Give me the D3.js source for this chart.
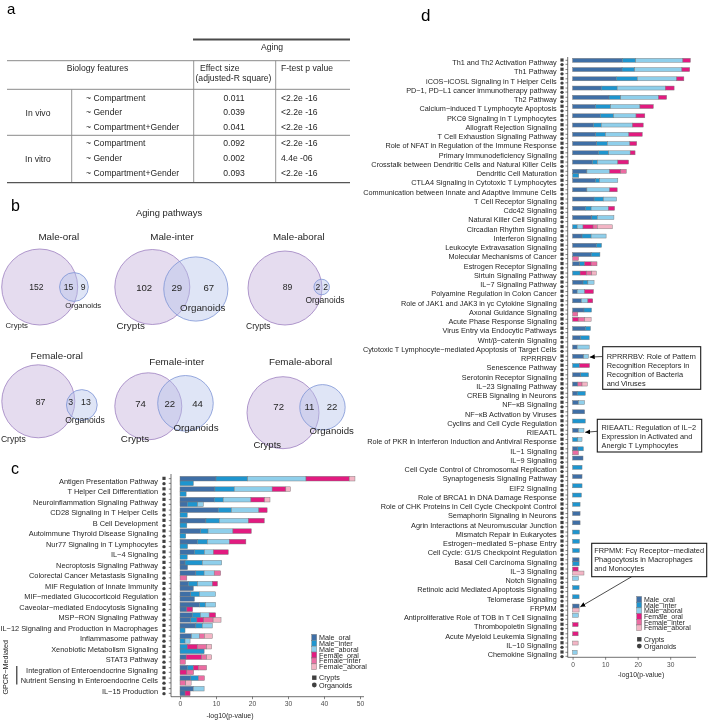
<!DOCTYPE html>
<html><head><meta charset="utf-8">
<script src="https://cdn.jsdelivr.net/npm/d3@7"></script>
<style>
body{margin:0;background:#fff}
svg{display:block;will-change:transform}
text{font-family:"Liberation Sans",Arial,Helvetica,sans-serif}
</style>
</head><body>
<svg id="fig" width="708" height="720"></svg>
<script>
// ---------------- DATA ----------------
// Panel a (table)
const tableGroups = ["In vivo", "In vitro"];
const tableFormulas = ["~ Compartment", "~ Gender", "~ Compartment+Gender", "~ Compartment", "~ Gender", "~ Compartment+Gender"];
const tableEffect = ["0.011", "0.039", "0.041", "0.092", "0.002", "0.093"];
const tablePValue = ["<2.2e -16", "<2.2e -16", "<2.2e -16", "<2.2e -16", "4.4e -06", "<2.2e -16"];

// Panel b (Venn)
const vennTitles = ["Male-oral", "Male-inter", "Male-aboral", "Female-oral", "Female-inter", "Female-aboral"];
const vennCryptsOnly = [152, 102, 89, 87, 74, 72];
const vennShared = [15, 29, 2, 3, 22, 11];
const vennOrganoidsOnly = [9, 67, 2, 13, 44, 22];

// Groups (stack order)
const groups = ["Male_oral", "Male_inter", "Male_aboral", "Female_oral", "Female_inter", "Female_aboral"];
const sampleTypes = ["Crypts", "Organoids"];

// Panel c
const cPathways = ["Antigen Presentation Pathway", "T Helper Cell Differentiation", "Neuroinflammation Signaling Pathway",
  "CD28 Signaling in T Helper Cells", "B Cell Development", "Autoimmune Thyroid Disease Signaling",
  "Nur77 Signaling in T Lymphocytes", "IL−4 Signaling", "Necroptosis Signaling Pathway",
  "Colorectal Cancer Metastasis Signaling", "MIF Regulation of Innate Immunity", "MIF−mediated Glucocorticoid Regulation",
  "Caveolar−mediated Endocytosis Signaling", "MSP−RON Signaling Pathway", "IL−12 Signaling and Production in Macrophages",
  "Inflammasome pathway", "Xenobiotic Metabolism Signaling", "STAT3 Pathway",
  "Integration of Enteroendocrine Signaling", "Nutrient Sensing in Enteroendocrine Cells", "IL−15 Production"];
// columns: Male_oral, Male_inter, Male_aboral, Female_oral, Female_inter, Female_aboral
const cCrypts = [
  [10.0, 8.8, 16.2, 12.0, 0, 1.6],
  [9.7, 5.4, 10.5, 3.8, 0, 1.3],
  [9.5, 2.5, 7.7, 3.8, 0, 1.5],
  [10.6, 3.7, 7.6, 2.3, 0, 0],
  [7.2, 3.7, 8.1, 4.4, 0, 0],
  [5.7, 2.1, 6.9, 5.1, 0, 0],
  [4.8, 2.8, 6.1, 4.6, 0, 0],
  [4.0, 2.8, 2.5, 4.1, 0, 0],
  [1.4, 4.8, 5.4, 0, 0, 0],
  [4.4, 2.3, 2.8, 0, 1.8, 0],
  [2.3, 2.6, 4.1, 1.4, 0, 0],
  [3.0, 2.4, 4.5, 0, 0, 0],
  [5.4, 1.7, 2.8, 0, 0, 0],
  [3.4, 2.3, 2.4, 1.8, 0, 0],
  [4.4, 1.8, 2.8, 0, 0, 0],
  [3.2, 0, 2.2, 0, 1.4, 2.2],
  [0, 2.0, 0, 2.8, 2.6, 1.4],
  [1.7, 0, 0, 4.3, 1.4, 1.4],
  [2.0, 1.7, 0, 1.4, 2.3, 0],
  [3.0, 2.1, 0, 0, 1.7, 0],
  [3.7, 0, 3.0, 0, 0, 0]
];
const cOrganoids = [
  [0, 3.7, 0, 0, 0, 0],
  [0, 1.7, 0, 0, 0, 0],
  [2.0, 2.9, 1.6, 0, 0, 0],
  [0, 2.0, 0, 0, 0, 0],
  [0, 1.9, 0, 0, 0, 0],
  [0, 1.6, 0, 0, 0, 0],
  [0, 2.1, 0, 0, 0, 0],
  [0, 2.0, 0, 0, 0, 0],
  [2.1, 0, 0, 0, 0, 0],
  [0, 0, 0, 0, 1.9, 0],
  [3.7, 0, 0, 0, 0, 0],
  [4.0, 0, 0, 0, 0, 0],
  [1.9, 0, 0, 1.6, 0, 0],
  [3.0, 1.7, 0, 1.9, 2.6, 2.2],
  [0, 1.4, 0, 0, 0, 0],
  [0, 1.4, 1.4, 0, 0, 0],
  [0, 6.7, 0, 0, 0, 0],
  [0, 0, 0, 0, 1.5, 0],
  [0, 0, 0, 1.9, 1.9, 0],
  [0, 0, 0, 0, 1.6, 1.5],
  [1.4, 0, 0, 1.4, 0, 0]
];
const cTicks = [0, 10, 20, 30, 40, 50];

// Panel d
const dPathways = ["Th1 and Th2 Activation Pathway", "Th1 Pathway", "iCOS−iCOSL Signaling in T Helper Cells",
  "PD−1, PD−L1 cancer immunotherapy pathway", "Th2 Pathway", "Calcium−induced T Lymphocyte Apoptosis",
  "PKCθ Signaling in T Lymphocytes", "Allograft Rejection Signaling", "T Cell Exhaustion Signaling Pathway",
  "Role of NFAT in Regulation of the Immune Response", "Primary Immunodeficiency Signaling",
  "Crosstalk between Dendritic Cells and Natural Killer Cells", "Dendritic Cell Maturation",
  "CTLA4 Signaling in Cytotoxic T Lymphocytes", "Communication between Innate and Adaptive Immune Cells",
  "T Cell Receptor Signaling", "Cdc42 Signaling", "Natural Killer Cell Signaling", "Circadian Rhythm Signaling",
  "Interferon Signaling", "Leukocyte Extravasation Signaling", "Molecular Mechanisms of Cancer",
  "Estrogen Receptor Signaling", "Sirtuin Signaling Pathway", "IL−7 Signaling Pathway",
  "Polyamine Regulation in Colon Cancer", "Role of JAK1 and JAK3 in γc Cytokine Signaling",
  "Axonal Guidance Signaling", "Acute Phase Response Signaling", "Virus Entry via Endocytic Pathways",
  "Wnt/β−catenin Signaling", "Cytotoxic T Lymphocyte−mediated Apoptosis of Target Cells", "RPRRRBV",
  "Senescence Pathway", "Serotonin Receptor Signaling", "IL−23 Signaling Pathway", "CREB Signaling in Neurons",
  "NF−κB Signaling", "NF−κB Activation by Viruses", "Cyclins and Cell Cycle Regulation", "RIEAATL",
  "Role of PKR in Interferon Induction and Antiviral Response", "IL−1 Signaling", "IL−9 Signaling",
  "Cell Cycle Control of Chromosomal Replication", "Synaptogenesis Signaling Pathway", "EIF2 Signaling",
  "Role of BRCA1 in DNA Damage Response", "Role of CHK Proteins in Cell Cycle Checkpoint Control",
  "Semaphorin Signaling in Neurons", "Agrin Interactions at Neuromuscular Junction", "Mismatch Repair in Eukaryotes",
  "Estrogen−mediated S−phase Entry", "Cell Cycle: G1/S Checkpoint Regulation", "Basal Cell Carcinoma Signaling",
  "IL−3 Signaling", "Notch Signaling", "Retinoic acid Mediated Apoptosis Signaling", "Telomerase Signaling",
  "FRPMM", "Antiproliferative Role of TOB in T Cell Signaling", "Thrombopoietin Signaling",
  "Acute Myeloid Leukemia Signaling", "IL−10 Signaling", "Chemokine Signaling"];
const dCrypts = [
  [15.3, 4.1, 14.5, 2.3, 0, 0],
  [15.2, 3.9, 14.5, 2.4, 0, 0],
  [13.4, 6.5, 12.1, 2.2, 0, 0],
  [8.8, 4.9, 14.8, 2.7, 0, 0],
  [11.2, 3.6, 11.6, 2.5, 0, 0],
  [7.0, 4.7, 9.0, 4.1, 0, 0],
  [8.5, 4.1, 6.9, 2.7, 0, 0],
  [6.4, 2.4, 9.6, 3.3, 0, 0],
  [7.1, 3.0, 7.2, 4.1, 0, 0],
  [7.4, 3.3, 6.9, 2.1, 0, 0],
  [7.9, 3.2, 6.6, 1.5, 0, 0],
  [6.1, 1.5, 6.3, 3.3, 0, 0],
  [4.4, 0, 7.0, 3.4, 1.7, 0],
  [7.0, 1.3, 5.6, 0, 0, 0],
  [4.4, 0, 7.0, 2.3, 0, 0],
  [6.6, 2.9, 4.0, 0, 0, 0],
  [3.9, 1.8, 5.3, 1.9, 0, 0],
  [5.9, 1.7, 5.1, 0, 0, 0],
  [0, 1.4, 1.8, 3.1, 1.3, 4.6],
  [2.9, 2.8, 4.6, 0, 0, 0],
  [7.3, 1.6, 0, 0, 0, 0],
  [5.7, 2.7, 0, 0, 0, 0],
  [2.2, 1.5, 0, 2.0, 1.8, 0],
  [0, 2.3, 0, 2.0, 1.6, 1.4],
  [3.2, 1.5, 1.9, 0, 0, 0],
  [1.4, 0, 2.3, 2.7, 0, 0],
  [2.7, 0, 2.0, 1.5, 0, 0],
  [3.5, 2.3, 0, 0, 0, 0],
  [0, 0, 0, 1.8, 1.9, 2.0],
  [3.9, 1.6, 0, 0, 0, 0],
  [2.4, 2.7, 0, 0, 0, 0],
  [1.4, 0, 3.7, 0, 0, 0],
  [3.4, 0, 1.5, 0, 0, 0],
  [0, 2.1, 0, 3.1, 0, 0],
  [2.5, 2.4, 0, 0, 0, 0],
  [1.6, 0, 0, 0, 1.3, 1.6],
  [1.4, 2.5, 0, 0, 0, 0],
  [1.8, 0, 1.9, 0, 0, 0],
  [3.7, 0, 0, 0, 0, 0],
  [0, 3.9, 0, 0, 0, 0],
  [1.8, 0, 1.7, 0, 0, 0],
  [0, 1.6, 1.3, 0, 0, 0],
  [1.6, 1.7, 0, 0, 0, 0],
  [3.2, 0, 0, 0, 0, 0],
  [0, 2.9, 0, 0, 0, 0],
  [2.9, 0, 0, 0, 0, 0],
  [0, 2.9, 0, 0, 0, 0],
  [0, 2.7, 0, 0, 0, 0],
  [0, 2.3, 0, 0, 0, 0],
  [2.3, 0, 0, 0, 0, 0],
  [2.3, 0, 0, 0, 0, 0],
  [0, 2.1, 0, 0, 0, 0],
  [0, 2.1, 0, 0, 0, 0],
  [0, 2.1, 0, 0, 0, 0],
  [2.0, 0, 0, 0, 0, 0],
  [0, 0, 0, 1.7, 0, 0],
  [0, 0, 1.8, 0, 0, 0],
  [0, 2.0, 0, 0, 0, 0],
  [0, 2.0, 0, 0, 0, 0],
  [2.0, 0, 0, 0, 0, 0],
  [0, 0, 1.8, 0, 0, 0],
  [0, 0, 0, 1.7, 0, 0],
  [0, 0, 0, 1.7, 0, 0],
  [0, 0, 0, 0, 0, 1.7],
  [0, 0, 1.4, 0, 0, 0]
];
const dOrganoids = [
  [0,0,0,0,0,0],[0,0,0,0,0,0],[0,0,0,0,0,0],[0,0,0,0,0,0],[0,0,0,0,0,0],
  [0,0,0,0,0,0],[0,0,0,0,0,0],[0,0,0,0,0,0],[0,0,0,0,0,0],[0,0,0,0,0,0],
  [0,0,0,0,0,0],[0,0,0,0,0,0],[0,1.9,0,0,0,0],[0,0,0,0,0,0],[0,0,0,0,0,0],
  [0,0,0,0,0,0],[0,0,0,0,0,0],[0,0,0,0,0,0],[0,0,0,0,0,0],[0,0,0,0,0,0],
  [0,0,0,0,0,0],[0,0,0,0,1.8,0],[0,0,0,0,0,0],[0,0,0,0,0,0],[0,0,0,0,0,0],
  [0,0,0,0,0,0],[0,0,0,0,0,0],[0,0,0,0,1.6,0],[0,0,0,0,0,0],[0,0,0,0,0,0],
  [0,0,0,0,0,0],[0,0,0,0,0,0],[0,0,0,0,0,0],[0,0,0,0,0,0],[0,0,0,0,0,0],
  [0,0,0,0,0,0],[0,0,0,0,0,0],[0,0,0,0,0,0],[0,0,0,0,0,0],[0,0,0,0,0,0],
  [0,0,0,0,0,0],[0,0,0,0,0,0],[0,0,0,0,1.8,0],[0,0,0,0,0,0],[0,0,0,0,0,0],
  [0,0,0,0,0,0],[0,0,0,0,0,0],[0,0,0,0,0,0],[0,0,0,0,0,0],[0,0,0,0,0,0],
  [0,0,0,0,0,0],[0,0,0,0,0,0],[0,0,0,0,0,0],[0,0,0,0,0,0],[0,2.0,0,0,0,0],
  [0,0,0,0,0,3.5],[0,0,0,0,0,0],[0,0,0,0,0,0],[0,0,0,0,0,0],[0,0,0,0,0,2.0],
  [0,0,0,0,0,0],[0,0,0,0,0,0],[0,0,0,0,0,0],[0,0,0,0,0,0],[0,0,0,0,0,0]
];
const dTicks = [0, 10, 20, 30];

// Annotations in panel d
const dNotes = [
  {target: "RPRRRBV", lines: ["RPRRRBV:  Role of Pattern", "Recognition Receptors in", "Recognition of Bacteria", "and Viruses"]},
  {target: "RIEAATL", lines: ["RIEAATL: Regulation of IL−2", "Expression in Activated and", "Anergic T Lymphocytes"]},
  {target: "FRPMM", lines: ["FRPMM: Fcγ Receptor−mediated", "Phagocytosis in Macrophages", "and Monocytes"]}
];

// ---------------- STYLE / LAYOUT ----------------
const groupColors = ["#3f6fa6", "#1e95cf", "#8fcfeb", "#e21b80", "#eb6ca2", "#f3b5c5"];
const color = d3.scaleOrdinal().domain(groups).range(groupColors);
const TXT = "#262626";

const svg = d3.select("#fig");
svg.append("rect").attr("width", 708).attr("height", 720).attr("fill", "#fff");

function text(g, x, y, s, size, anchor = "start", fill = TXT) {
  return g.append("text").attr("x", x).attr("y", y).attr("font-size", size)
    .attr("text-anchor", anchor).attr("fill", fill).text(s);
}
function line(g, x1, y1, x2, y2, stroke, w) {
  return g.append("line").attr("x1", x1).attr("y1", y1).attr("x2", x2).attr("y2", y2)
    .attr("stroke", stroke).attr("stroke-width", w);
}

// panel letters
text(svg, 7, 13.5, "a", 15, "start", "#000");
text(svg, 11, 211, "b", 16, "start", "#000");
text(svg, 11, 474, "c", 16, "start", "#000");
text(svg, 421, 20.5, "d", 17, "start", "#000");

// ---------------- PANEL A ----------------
(function () {
  const g = svg.append("g");
  const fs = 8.6;
  const rowY = [97.7, 111.7, 126.7, 143.3, 158.3, 173.3];
  const gridC = "#8a8a8a";
  line(g, 193, 39.5, 350, 39.5, "#4a4a4a", 2);
  text(g, 272, 50, "Aging", fs, "middle");
  line(g, 7, 60.7, 350, 60.7, gridC, 1);
  line(g, 193.7, 60.7, 193.7, 182.7, gridC, 0.9);
  line(g, 275.7, 60.7, 275.7, 182.7, gridC, 0.9);
  line(g, 71.7, 89.3, 71.7, 182.7, gridC, 0.9);
  text(g, 97.5, 71.3, "Biology features", fs, "middle");
  text(g, 200, 71, "Effect size", fs, "start");
  text(g, 195.5, 80.7, "(adjusted-R square)", fs, "start");
  text(g, 281, 71.3, "F-test p value", fs, "start");
  line(g, 7, 89.3, 350, 89.3, gridC, 1);
  line(g, 7, 135.3, 350, 135.3, gridC, 1);
  line(g, 7, 182.7, 350, 182.7, "#555", 1.3);
  text(g, 38, 116.3, tableGroups[0], fs, "middle");
  text(g, 38, 161.7, tableGroups[1], fs, "middle");
  tableFormulas.forEach((f, i) => {
    text(g, 86, rowY[i] + 3, f, fs, "start");
    text(g, 234, rowY[i] + 3, tableEffect[i], fs, "middle");
    text(g, 281, rowY[i] + 3, tablePValue[i], fs, "start");
  });
})();

// ---------------- PANEL B ----------------
(function () {
  const g = svg.append("g");
  text(g, 169, 216, "Aging pathways", 9.4, "middle");
  const layout = [
    {cx: 39.7, cy: 287, r: 38, dy: 0, tx: 58.8, ty: 240, ny: 287.3, nfs: 8.6, lfs: 7.8, crypt: [16.7, 325.7], org: [83.3, 305]},
    {cx: 152.3, cy: 287, r: 37.5, dy: 2, tx: 172, ty: 240, ny: 287.3, nfs: 9.6, lfs: 9.8, crypt: [130.7, 325.7], org: [202.7, 307.3]},
    {cx: 285, cy: 288, r: 37, dy: -1, tx: 298.8, ty: 240, ny: 287.3, nfs: 8.6, lfs: 8.5, crypt: [258.3, 325.7], org: [325, 300]},
    {cx: 38.3, cy: 401.3, r: 36.5, dy: 3.7, tx: 56.7, ty: 358.5, ny: 402.3, nfs: 8.8, lfs: 8.6, crypt: [13.3, 439.3], org: [85, 420]},
    {cx: 148.3, cy: 406.3, r: 33.5, dy: -3, tx: 176.7, ty: 365, ny: 403.3, nfs: 9.6, lfs: 9.8, crypt: [135, 438.3], org: [196, 427.7]},
    {cx: 283, cy: 412.7, r: 36, dy: -5.4, tx: 300.5, ty: 365, ny: 406.7, nfs: 9.6, lfs: 9.6, crypt: [267.3, 444.3], org: [331.7, 431]}
  ];
  function lens(r1, r2, d) {
    if (d >= r1 + r2) return 0;
    if (d <= Math.abs(r1 - r2)) return Math.PI * Math.min(r1, r2) ** 2;
    const a1 = Math.acos((d * d + r1 * r1 - r2 * r2) / (2 * d * r1));
    const a2 = Math.acos((d * d + r2 * r2 - r1 * r1) / (2 * d * r2));
    return r1 * r1 * a1 + r2 * r2 * a2 - 0.5 * Math.sqrt((-d + r1 + r2) * (d + r1 - r2) * (d - r1 + r2) * (d + r1 + r2));
  }
  vennTitles.forEach((t, i) => {
    const L = layout[i];
    const nC = vennCryptsOnly[i] + vennShared[i];
    const nO = vennOrganoidsOnly[i] + vennShared[i];
    const rScale = d3.scaleSqrt().domain([0, nC]).range([0, L.r]);
    const r1 = rScale(nC), r2 = rScale(nO);
    const k = Math.PI * r1 * r1 / nC;
    const target = k * vennShared[i];
    let lo = Math.abs(r1 - r2), hi = r1 + r2;
    for (let it = 0; it < 60; it++) {
      const mid = (lo + hi) / 2;
      if (lens(r1, r2, mid) > target) lo = mid; else hi = mid;
    }
    const d = (lo + hi) / 2;
    const dx = Math.sqrt(Math.max(0, d * d - L.dy * L.dy));
    const ox = L.cx + dx, oy = L.cy + L.dy;
    g.append("circle").attr("cx", L.cx).attr("cy", L.cy).attr("r", r1)
      .attr("fill", "#c9b6dd").attr("fill-opacity", 0.48).attr("stroke", "#9d80c0").attr("stroke-width", 0.8);
    g.append("circle").attr("cx", ox).attr("cy", oy).attr("r", r2)
      .attr("fill", "#b2c2ea").attr("fill-opacity", 0.42).attr("stroke", "#7d94d6").attr("stroke-width", 0.8);
    text(g, L.tx, L.ty, t, 9.8, "middle");
    const cLeft = L.cx - r1, oLeft = ox - r2, cRight = L.cx + r1, oRight = ox + r2;
    const yN = L.ny + L.nfs * 0.35;
    text(g, cLeft + (oLeft - cLeft) * 0.6, yN, vennCryptsOnly[i], L.nfs, "middle");
    text(g, (oLeft + cRight) / 2, yN, vennShared[i], L.nfs, "middle");
    text(g, (cRight + oRight) / 2, yN, vennOrganoidsOnly[i], L.nfs, "middle");
    text(g, L.crypt[0], L.crypt[1] + L.lfs * 0.35, "Crypts", L.lfs, "middle");
    text(g, L.org[0], L.org[1] + L.lfs * 0.35, "Organoids", L.lfs, "middle");
  });
})();

// ---------------- BAR PANELS ----------------
function buildRows(names, crypts, orgs) {
  const rows = [];
  names.forEach((n, i) => {
    [crypts[i], orgs[i]].forEach((vals, t) => {
      const r = {pathway: n, type: sampleTypes[t]};
      groups.forEach((gname, j) => r[gname] = vals[j]);
      rows.push(r);
    });
  });
  return rows;
}

function barPanel(opt) {
  const g = svg.append("g");
  const x = d3.scaleLinear().domain([0, opt.xMaxTick]).range([opt.x0, opt.x1]);
  const y = d3.scalePoint().domain(opt.names).range([opt.yFirst, opt.yLast]);
  const rows = buildRows(opt.names, opt.crypts, opt.orgs);
  const series = d3.stack().keys(groups)(rows);
  const h = opt.barH;
  const yBar = (d) => y(d.data.pathway) + (d.data.type === "Crypts" ? -h : 0);

  // bars
  series.forEach(s => {
    g.append("g").selectAll("rect").data(s.filter(d => d[1] - d[0] > 0)).join("rect")
      .attr("x", d => x(d[0])).attr("width", d => x(d[1]) - x(d[0]))
      .attr("y", yBar).attr("height", h)
      .attr("fill", color(s.key)).attr("stroke", "#7a7a7a").attr("stroke-width", 0.45);
  });

  // x axis
  const xa = g.append("g").attr("transform", `translate(0,${opt.axisY})`)
    .call(d3.axisBottom(x).tickValues(opt.ticks).tickSize(2.5).tickPadding(2.2));
  xa.select(".domain").remove();
  xa.selectAll(".tick line").attr("stroke", "#333").attr("stroke-width", 0.6);
  xa.selectAll(".tick text").attr("font-size", opt.tickFs).attr("fill", "#4d4d4d")
    .attr("font-family", '"Liberation Sans",Arial,sans-serif');
  line(g, opt.axisX, opt.axisY, opt.axisRight, opt.axisY, "#333", 0.7);
  line(g, opt.axisX, opt.axisTop, opt.axisX, opt.axisY, "#333", 0.7);
  text(g, opt.titleX, opt.titleY, "-log10(p-value)", opt.titleFs, "middle");

  // y axis labels via axisLeft
  const ya = g.append("g").attr("transform", `translate(${opt.axisX},0)`)
    .call(d3.axisLeft(y).tickSize(0).tickPadding(opt.labelPad));
  ya.select(".domain").remove();
  ya.selectAll(".tick text").attr("font-size", opt.labelFs).attr("fill", TXT)
    .attr("font-family", '"Liberation Sans",Arial,sans-serif');

  // shape icons + small ticks per sample type
  opt.names.forEach(n => {
    const yc = y(n);
    g.append("rect").attr("x", opt.iconX - 1.6).attr("y", yc - h / 2 - 1.6 - 0.3).attr("width", 3.2).attr("height", 3.2).attr("fill", "#404040");
    g.append("circle").attr("cx", opt.iconX).attr("cy", yc + h / 2 + 0.3).attr("r", 1.7).attr("fill", "#404040");
    [-h / 2, h / 2].forEach(off => line(g, opt.axisX - 2.2, yc + off, opt.axisX, yc + off, "#333", 0.6));
  });

  // legend
  const L = opt.legend;
  groups.forEach((gn, i) => {
    const yy = L.y + i * L.step;
    g.append("rect").attr("x", L.x).attr("y", yy - L.step / 2).attr("width", 5).attr("height", L.step)
      .attr("fill", color(gn)).attr("stroke", "#7a7a7a").attr("stroke-width", 0.45);
    text(g, L.x + 7.3, yy + L.fs * 0.36, gn, L.fs, "start");
  });
  g.append("rect").attr("x", L.x + 0.4).attr("y", L.shapeY - 2.2).attr("width", 4.4).attr("height", 4.4).attr("fill", "#404040");
  text(g, L.x + 7.3, L.shapeY + L.fs * 0.36, "Crypts", L.fs, "start");
  g.append("circle").attr("cx", L.x + 2.6).attr("cy", L.shapeY + L.shapeStep).attr("r", 2.4).attr("fill", "#404040");
  text(g, L.x + 7.3, L.shapeY + L.shapeStep + L.fs * 0.36, "Organoids", L.fs, "start");
  return {g, x, y};
}

// Panel c
const pc = barPanel({
  names: cPathways, crypts: cCrypts, orgs: cOrganoids, ticks: cTicks,
  xMaxTick: 50, x0: 180, x1: 360, yFirst: 481, yLast: 691, barH: 4.7,
  axisX: 171, axisY: 696.7, axisTop: 474, axisRight: 364,
  labelPad: 13, labelFs: 7.4, tickFs: 6.8, iconX: 164,
  titleX: 230, titleY: 717.5, titleFs: 7,
  legend: {x: 311.7, y: 637.3, step: 5.9, fs: 7.2, shapeY: 677.7, shapeStep: 7.3}
});
// GPCR bracket
(function () {
  const yA = pc.y(cPathways[18]), yB = pc.y(cPathways[19]);
  line(svg, 16.8, yA - 4, 16.8, yB + 4, "#222", 1.1);
  svg.append("text").attr("transform", `translate(8,${(yA + yB) / 2 - 8}) rotate(-90)`)
    .attr("text-anchor", "middle").attr("font-size", 7.2).attr("fill", TXT).text("GPCR−Mediated");
})();

// Panel d
const pd = barPanel({
  names: dPathways, crypts: dCrypts, orgs: dOrganoids, ticks: dTicks,
  xMaxTick: 30, x0: 572.6, x1: 670.2, yFirst: 62.3, yLast: 654.3, barH: 4.0,
  axisX: 567.7, axisY: 657.3, axisTop: 57, axisRight: 696,
  labelPad: 11, labelFs: 7.3, tickFs: 6.6, iconX: 562,
  titleX: 641, titleY: 676.6, titleFs: 6.9,
  legend: {x: 636.7, y: 599.3, step: 5.7, fs: 7.0, shapeY: 639.3, shapeStep: 6.8}
});

// annotations
(function () {
  const boxes = [
    {x: 602.7, y: 346.7, w: 98, h: 42.6, tx: 606.7, ty: 358.7, from: [602.7, 356.5]},
    {x: 597.3, y: 419.3, w: 104.4, h: 32.7, tx: 601.5, ty: 430.2, from: [597.3, 431.3]},
    {x: 591.7, y: 543.3, w: 115, h: 33.4, tx: 594.2, ty: 552.6, from: [631.7, 576.7]}
  ];
  svg.append("defs").append("marker").attr("id", "ah").attr("viewBox", "0 0 10 10")
    .attr("refX", 10).attr("refY", 5).attr("markerWidth", 5).attr("markerHeight", 5)
    .attr("markerUnits", "userSpaceOnUse").attr("orient", "auto")
    .append("path").attr("d", "M0,0 L10,5 L0,10 z").attr("fill", "#000");
  dNotes.forEach((n, i) => {
    const b = boxes[i];
    const idx = dPathways.indexOf(n.target);
    const total = d3.sum(dCrypts[idx]);
    const tipX = pd.x(total) + 1.2;
    const tipY = pd.y(n.target) - (i === 1 ? 0 : 1.2);
    svg.append("line").attr("x1", b.from[0]).attr("y1", b.from[1]).attr("x2", tipX).attr("y2", tipY)
      .attr("stroke", "#000").attr("stroke-width", 0.7).attr("marker-end", "url(#ah)");
    svg.append("rect").attr("x", b.x).attr("y", b.y).attr("width", b.w).attr("height", b.h)
      .attr("fill", "#fff").attr("stroke", "#1a1a1a").attr("stroke-width", 1.1);
    n.lines.forEach((l, j) => text(svg, b.tx, b.ty + j * 9, l, 7.4, "start"));
  });
})();
</script>
</body></html>
